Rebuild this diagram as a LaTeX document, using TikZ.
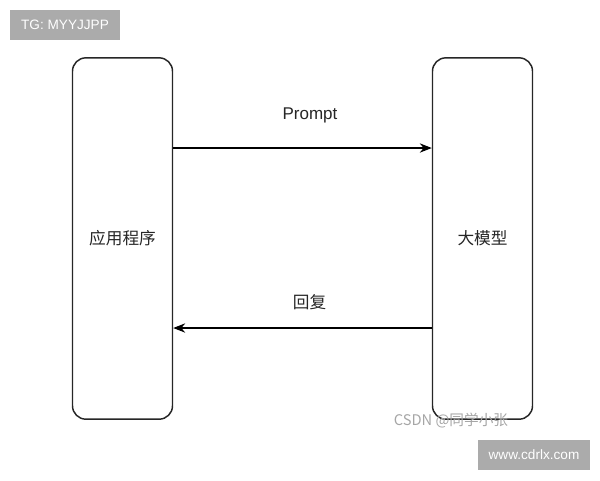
\documentclass[tikz,border=0pt]{standalone}
\usepackage{fontspec}
\setmainfont{Liberation Sans}
\newfontfamily\cjk{Noto Sans CJK SC}
\usetikzlibrary{arrows.meta}
\begin{document}
\begin{tikzpicture}[x=0.75pt,y=-0.75pt,
  box/.style={draw=black!85,line width=1.1pt,rounded corners=10pt,minimum width=75pt,minimum height=271pt,inner sep=0pt,fill=white},
  lbl/.style={font=\fontsize{12.5pt}{14pt}\selectfont\cjk,text=black!85},
  conn/.style={line width=0.9pt,draw=black,-{Stealth[length=9pt,width=7pt]}},
  badge/.style={fill=black!33,text=white,inner sep=0pt,font=\fontsize{10.2pt}{12pt}\selectfont}]
\useasboundingbox (0,0) rectangle (600,480);
\node[box] (app) at (122.5,238.5) {};
\node[box] (llm) at (482.5,238.5) {};
\node[lbl] (applbl) at (app.center) {应用程序};
\node[lbl] (llmlbl) at (llm.center) {大模型};
\coordinate (a1) at (app.east |- 0,148);
\coordinate (b1) at (llm.west |- 0,148);
\coordinate (a2) at (app.east |- 0,328);
\coordinate (b2) at (llm.west |- 0,328);
\draw[conn] (a1) -- (b1);
\draw[conn] (b2) -- (a2);
\node[lbl,font=\fontsize{12.75pt}{14pt}\selectfont] (prompt) at (310,115) {Prompt};
\node[lbl] (reply) at (309.5,302) {回复};
\node[badge,minimum width=82.5pt,minimum height=22.5pt] (tg) at (65,25) {TG: MYYJJPP};
\node[badge,minimum width=84pt,minimum height=22.5pt] (www) at (534,455) {www.cdrlx.com};
\node[font=\fontsize{11pt}{12pt}\selectfont\cjk,text=black!35] (csdn) at (451,421) {CSDN @同学小张};
\end{tikzpicture}
\end{document}
